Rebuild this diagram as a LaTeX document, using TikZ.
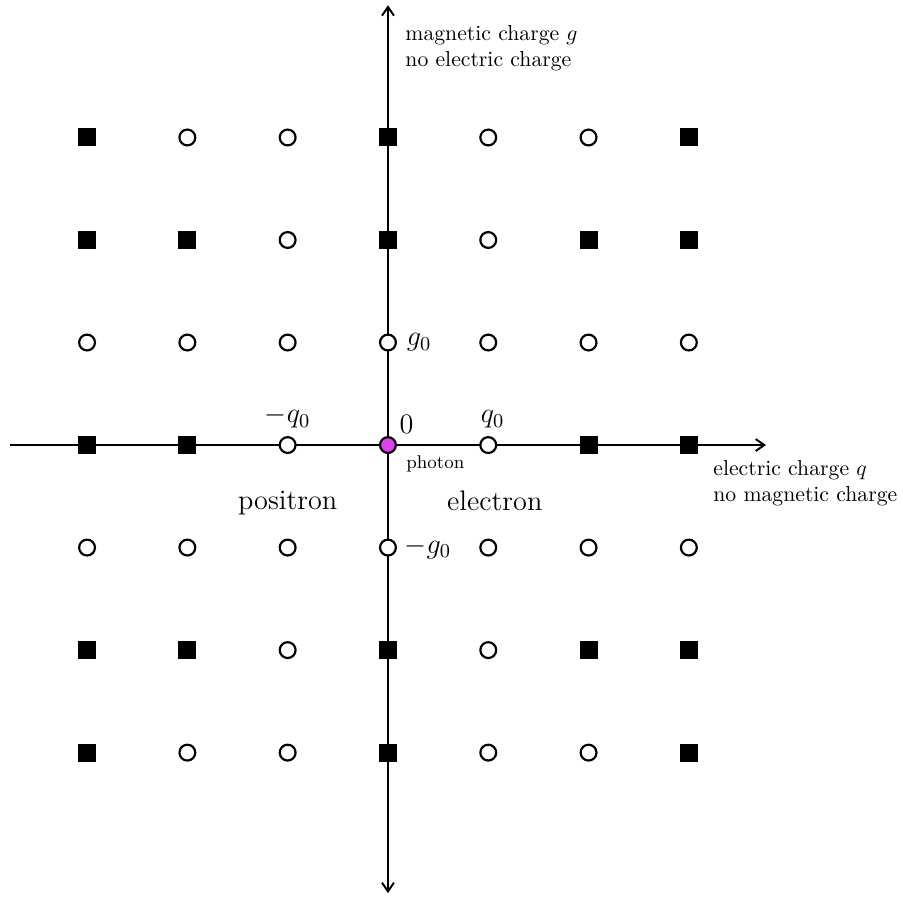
\documentclass[tikz,border=0pt]{standalone}
\usepackage{fix-cm}
\usepackage{amsmath}
\usepackage{tikz}
\usetikzlibrary{arrows, arrows.meta, positioning}
\definecolor{photoncol}{RGB}{224,64,240}

\begin{document}
\begin{tikzpicture}[
    x=1.624cm, y=1.66cm,
    >={Straight Barb[length=4pt, width=5.5pt]},
    axis/.style={line width=0.9pt},
    dyon/.style={rectangle, fill=black, inner sep=0pt, minimum size=8.3pt},
    charge/.style={circle, draw=black, fill=white, line width=1pt, inner sep=0pt, minimum size=7.3pt},
    lbl/.style={font=\fontsize{13}{15}\selectfont}
]
\useasboundingbox (-3.868,-4.420) rectangle (5.135,4.341);
\coordinate (xl) at (-3.77,0);
\coordinate (xr) at (3.77,0);
\coordinate (yb) at (0,-4.37);
\coordinate (yt) at (0,4.29);
\draw[axis, ->] (xl) -- (xr);
\draw[axis, <->] (yb) -- (yt);

% filled squares
\foreach \x/\y in {-3/3, 0/3, 3/3, -3/2, -2/2, 0/2, 2/2, 3/2, -3/0, -2/0, 2/0, 3/0,
    -3/-2, -2/-2, 0/-2, 2/-2, 3/-2, -3/-3, 0/-3, 3/-3}
    \node [dyon] (s\x-\y) at (\x,\y) {};
% open circles
\foreach \x/\y in {-2/3, -1/3, 1/3, 2/3, -1/2, 1/2, -1/0, 1/0, -1/-2, 1/-2,
    -2/-3, -1/-3, 1/-3, 2/-3}
    \node [charge] (c\x-\y) at (\x,\y) {};
\foreach \x in {-3,...,3} {
    \node [charge] (c\x-1) at (\x,1) {};
    \node [charge] (c\x--1) at (\x,-1) {};
}
\node [charge, fill=photoncol] (ph) at (0,0) {};

\node [lbl, right=1pt of c0-1] {$g_0$};
\node [lbl, right=0pt of c0--1] {$-g_0$};
\node [lbl, above=0pt of c-1-0] {$-q_0$};
\node [lbl, above=0pt of c1-0, xshift=2pt] {$q_0$};
\node [lbl, above right=-1.5pt of ph] {$0$};
\node [font=\fontsize{8.5}{10}\selectfont, below right=-1.5pt and 2pt of ph] {photon};
\node [lbl, below=13.5pt of c-1-0] {positron};
\node [lbl, below=13.5pt of c1-0, xshift=3pt] {electron};

\node [anchor=north west, align=left, inner sep=0pt] (gaxis) at (0.17,4.1) {magnetic charge $g$\\no electric charge};
\node [anchor=north west, align=left, inner sep=0pt] (qaxis) at (3.24,-0.146) {electric charge $q$\\no magnetic charge};
\end{tikzpicture}
\end{document}
